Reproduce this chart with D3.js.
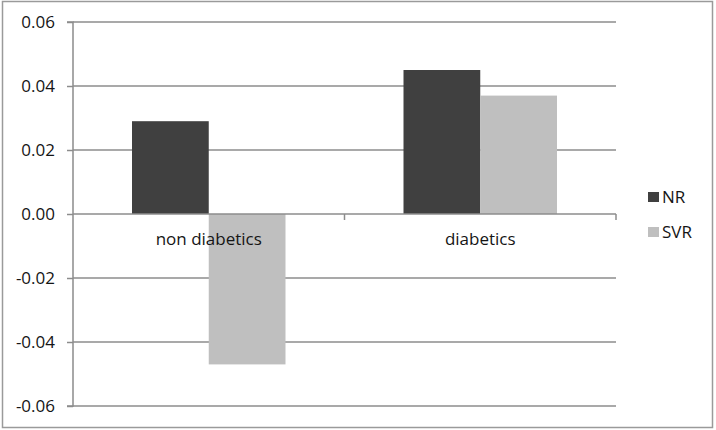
<!DOCTYPE html>
<html><head><meta charset="utf-8">
<script src="https://cdn.jsdelivr.net/npm/d3@7"></script>
<style>body{margin:0;background:#fff}svg{display:block}text{font-family:"Open Sans",sans-serif;fill:#151515}</style>
</head><body>
<script>
const categories = ["non diabetics", "diabetics"];
const seriesNames = ["NR", "SVR"];
const NR = [0.029, 0.045];
const SVR = [-0.047, 0.037];
const yTicks = [-0.06, -0.04, -0.02, 0.00, 0.02, 0.04, 0.06];
const colors = ["#404040", "#bfbfbf"];

(function () {
const W = 716, H = 430;
const svg = d3.select("body").append("svg").attr("width", W).attr("height", H);
svg.append("rect").attr("x", 2.5).attr("y", 1.5).attr("width", 710).attr("height", 426)
  .attr("fill", "#fff").attr("stroke", "#9a9a9a").attr("stroke-width", 1.5);

const pL = 73, pR = 616, pT = 22, pB = 406;
const y = d3.scaleLinear().domain([-0.06, 0.06]).range([pB, pT]);
const x0 = d3.scaleBand().domain(categories).range([pL, pR]).padding(0);
const x1 = d3.scaleBand().domain(seriesNames).range([59, x0.bandwidth() - 59]).padding(0);

// gridlines
svg.append("g").selectAll("line").data(yTicks.filter(d => d !== 0)).join("line")
  .attr("x1", pL).attr("x2", pR).attr("y1", d => y(d)).attr("y2", d => y(d))
  .attr("stroke", "#8c8c8c").attr("stroke-width", 1.5);

// y axis
const fmt = d => d3.format(".2f")(d).replace("\u2212", "-");
const yAxis = d3.axisLeft(y).tickValues(yTicks).tickFormat(fmt).tickSize(6).tickPadding(12);
const gy = svg.append("g").attr("transform", `translate(${pL},0)`).call(yAxis);
gy.select(".domain").attr("stroke", "#8c8c8c").attr("stroke-width", 1.5).attr("d", `M-6,${pT}H0V${pB}H-6`);
gy.selectAll(".tick line").attr("stroke", "#8c8c8c").attr("stroke-width", 1.5);
gy.selectAll(".tick text").style("font-size", "17px").style("font-family", "'Open Sans',sans-serif").attr("fill", "#151515");

const data = categories.map((c, i) => ({cat: c, vals: [NR[i], SVR[i]]}));
const groups = svg.append("g").selectAll("g").data(data).join("g")
  .attr("transform", d => `translate(${x0(d.cat)},0)`);
groups.selectAll("rect").data(d => d.vals.map((v, j) => ({s: seriesNames[j], v, j}))).join("rect")
  .attr("x", d => x1(d.s)).attr("width", x1.bandwidth())
  .attr("y", d => y(Math.max(0, d.v))).attr("height", d => Math.abs(y(d.v) - y(0)))
  .attr("fill", d => colors[d.j]);

// zero axis with category ticks
const gx = svg.append("g").attr("transform", `translate(0,${y(0)})`);
gx.append("line").attr("x1", pL).attr("x2", pR).attr("stroke", "#8c8c8c").attr("stroke-width", 1.5);
const bounds = [pL + x0.step(), pR];
gx.selectAll(".ct").data(bounds).join("line").attr("class", "ct")
  .attr("x1", d => d).attr("x2", d => d).attr("y1", 0).attr("y2", 6)
  .attr("stroke", "#8c8c8c").attr("stroke-width", 1.5);
gx.selectAll("text").data(categories).join("text")
  .attr("x", d => x0(d) + x0.bandwidth() / 2).attr("y", 31)
  .attr("text-anchor", "middle").style("font-size", "17px").text(d => d);

// legend
const lg = svg.append("g").attr("transform", "translate(648,192)");
const li = lg.selectAll("g").data(seriesNames).join("g").attr("transform", (d, i) => `translate(0,${i * 35})`);
li.append("rect").attr("width", 11).attr("height", 10).attr("fill", (d, i) => colors[i]);
li.append("text").attr("x", 14).attr("y", 11).style("font-size", "17px").text(d => d);
})();
</script>
</body></html>
